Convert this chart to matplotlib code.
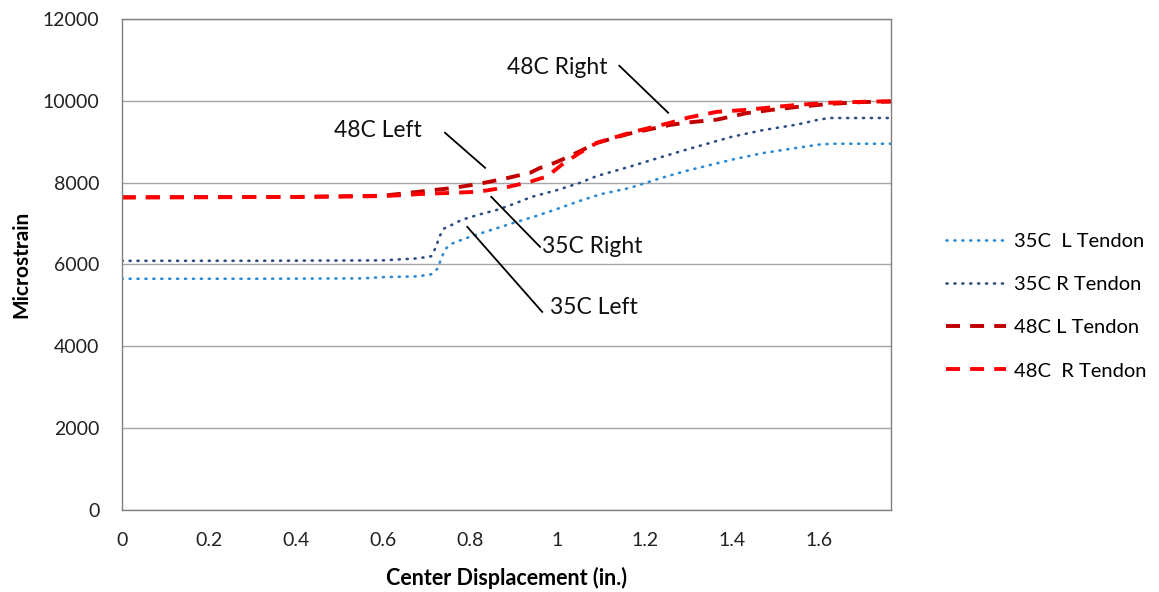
import matplotlib
matplotlib.use("Agg")
import matplotlib.pyplot as plt

plt.rcParams['font.family'] = ['Lato', 'DejaVu Sans']

# center displacement (in.) and microstrain readings for each tendon
x_35L = [0, 0.3, 0.55, 0.6, 0.68, 0.71, 0.725, 0.735, 0.745, 0.76, 0.8, 0.85, 0.9, 0.95, 1.0,
         1.05, 1.1, 1.166, 1.24, 1.3, 1.4, 1.47, 1.55, 1.6, 1.63, 1.766]
y_35L = [5650, 5650, 5660, 5690, 5710, 5760, 5900, 6200, 6400, 6520, 6680, 6850, 7020, 7180, 7360,
         7550, 7720, 7870, 8120, 8300, 8560, 8720, 8850, 8930, 8950, 8950]

x_35R = [0, 0.3, 0.6, 0.68, 0.71, 0.72, 0.73, 0.74, 0.76, 0.78, 0.82, 0.86, 0.9, 0.94, 1.0,
         1.05, 1.09, 1.166, 1.24, 1.3, 1.4, 1.47, 1.55, 1.6, 1.626, 1.766]
y_35R = [6090, 6090, 6100, 6150, 6200, 6400, 6700, 6880, 6980, 7090, 7220, 7330, 7480, 7650, 7820,
         7990, 8160, 8390, 8630, 8820, 9120, 9280, 9420, 9540, 9580, 9580]

x_48 = [0, 0.4, 0.6, 0.7, 0.76, 0.82, 0.88, 0.937, 0.96, 0.975, 1.01, 1.05, 1.09, 1.166, 1.258,
        1.3, 1.366, 1.435, 1.5, 1.55, 1.62, 1.7, 1.766]
y_48L = [7640, 7650, 7680, 7800, 7870, 7970, 8100, 8240, 8360, 8400, 8560, 8760, 8970, 9200, 9410,
         9470, 9540, 9700, 9790, 9850, 9920, 9970, 9980]
y_48R = [7640, 7650, 7670, 7730, 7750, 7780, 7880, 8020, 8100, 8140, 8440, 8720, 8970, 9220, 9460,
         9590, 9730, 9780, 9850, 9900, 9950, 9975, 9990]

labels = ['35C  L Tendon', '35C R Tendon', '48C L Tendon', '48C  R Tendon']
colors = ['#2A8AD4', '#2B4F80', '#C00000', '#FF0000']

fig = plt.figure(figsize=(11.59, 5.92), dpi=100)
ax = fig.add_axes([0.105, 0.1385, 0.664, 0.8295])

dot = (0, (0.4, 2.6))
dash = (0, (3.6, 2.6))
ax.plot(x_35L, y_35L, color=colors[0], lw=1.9, ls=dot, dash_capstyle='round', label=labels[0])
ax.plot(x_35R, y_35R, color=colors[1], lw=1.9, ls=dot, dash_capstyle='round', label=labels[1])
ax.plot(x_48, y_48L, color=colors[2], lw=2.8, ls=dash, label=labels[2])
ax.plot(x_48, y_48R, color=colors[3], lw=2.8, ls=dash, label=labels[3])

ax.set_xlim(0, 1.766)
ax.set_ylim(0, 12000)
ax.set_xticks([0, 0.2, 0.4, 0.6, 0.8, 1.0, 1.2, 1.4, 1.6])
ax.set_xticklabels(['0', '0.2', '0.4', '0.6', '0.8', '1', '1.2', '1.4', '1.6'])
ax.set_yticks(range(0, 12001, 2000))
ax.tick_params(length=0, labelsize=14, colors='#222222', pad=16)
ax.yaxis.grid(True, color='#A6A6A6', lw=1)
ax.set_axisbelow(True)
for s in ax.spines.values():
    s.set_color('#808080')
    s.set_linewidth(1)

ax.set_ylabel('Microstrain', fontsize=15, fontweight='bold', va='center')
ax.yaxis.set_label_coords(-0.131, 0.5)
ax.set_xlabel('Center Displacement (in.)', fontsize=15.5, fontweight='bold', va='center')
ax.xaxis.set_label_coords(0.5, -0.139)

# callouts
notes = [
    ('48C Left', (0.588, 9267), (0.742, 9218), (0.834, 8362)),
    ('48C Right', (0.999, 10807), (1.142, 10856), (1.254, 9707)),
    ('35C Right', (1.080, 6430), (0.848, 7653), (0.960, 6430)),
    ('35C Left', (1.084, 4939), (0.793, 6919), (0.965, 4841)),
]
for txt, tpos, p0, p1 in notes:
    ax.text(tpos[0], tpos[1], txt, fontsize=16.5, ha='center', va='center', color='#111111')
    ax.plot([p0[0], p1[0]], [p0[1], p1[1]], color='black', lw=1.3)

fig.legend(loc='center left', bbox_to_anchor=(0.816, 0.483), frameon=False, fontsize=14.5,
           handlelength=3.0, handletextpad=0.4, labelspacing=1.3, borderpad=0, borderaxespad=0)

fig.savefig('out.png', dpi=100)
